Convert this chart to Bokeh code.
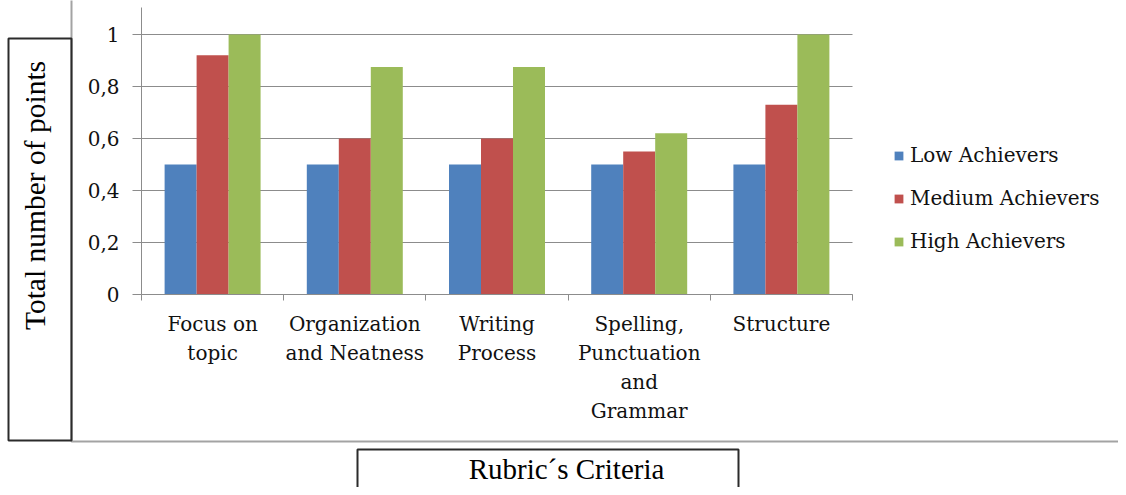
import math
from bokeh.plotting import figure
from bokeh.models import (Range1d, FixedTicker, BoxAnnotation, Label, Legend, LegendItem,
                          ColumnDataSource, LinearAxis, Grid)
from bokeh.embed import file_html
from bokeh.resources import INLINE

# ---------------- data ----------------
categories = ["Focus on\ntopic", "Organization\nand Neatness", "Writing\nProcess",
              "Spelling,\nPunctuation\nand\nGrammar", "Structure"]
series_names = ["Low Achievers", "Medium Achievers", "High Achievers"]
low = [0.5, 0.5, 0.5, 0.5, 0.5]
medium = [0.92, 0.60, 0.60, 0.55, 0.73]
high = [1.0, 0.875, 0.875, 0.62, 1.0]
y_ticks = [0, 0.2, 0.4, 0.6, 0.8, 1.0]
y_tick_labels = ["0", "0,2", "0,4", "0,6", "0,8", "1"]
y_title = "Total number of points"
x_title = "Rubric\u00b4s Criteria"

# ---------------- geometry / style ----------------
colors = ["#4F81BD", "#C0504D", "#9BBB59"]
FONT = "'DejaVu Serif', 'Liberation Serif', serif"
TITLE_FONT = "'Liberation Serif', 'Times New Roman', Tinos, serif"
GRAY = "#8c8c8c"
W, H = 1118, 487

# plot area in canvas pixels
PL, PR, P0, P1 = 141, 852, 294, 34   # left, right, y of value 0, y of value 1
N = len(categories)
XPX = (PR - PL) / N        # px per category
YPX = (P0 - P1) / 1.0      # px per unit


def xd(px):
    return (px - PL) / XPX


def yd(py):
    return (P0 - py) / YPX


p = figure(width=W, height=H, x_range=Range1d(xd(0), xd(W)), y_range=Range1d(yd(H), yd(0)),
           x_axis_type=None, y_axis_type=None,
           min_border=0, min_border_left=0, min_border_right=0, min_border_top=0,
           min_border_bottom=0, output_backend="svg", toolbar_location=None,
           background_fill_color="white", border_fill_color="white")
p.outline_line_color = None

# outer chart-area lines (left & bottom)
p.add_layout(BoxAnnotation(left=xd(71), right=xd(W + 60), top=yd(-60), bottom=yd(441),
                           fill_alpha=0, line_color="#a3a3a3", line_alpha=1, line_width=2,
                           level="underlay"))
# y-title box
p.add_layout(BoxAnnotation(left=xd(8), right=xd(71), top=yd(38), bottom=yd(440),
                           fill_alpha=0, line_color="#2b2b2b", line_alpha=1, line_width=2))
# x-title box
p.add_layout(BoxAnnotation(left=xd(357), right=xd(738), top=yd(449), bottom=yd(H + 40),
                           fill_alpha=0, line_color="#2b2b2b", line_alpha=1, line_width=2))

# gridlines
try:
    grid = Grid(dimension=1, ticker=FixedTicker(ticks=y_ticks), cross_bounds=(0, N),
                grid_line_color=GRAY, level="underlay")
    p.add_layout(grid)
except Exception:
    p.segment(x0=0, x1=N, y0=y_ticks, y1=y_ticks, line_color=GRAY, line_width=1,
              level="underlay")

# bars
bw = 0.225
offsets = [-bw, 0.0, bw]
renderers = []
for vals, off, col in zip([low, medium, high], offsets, colors):
    src = ColumnDataSource(dict(x=[i + 0.5 + off for i in range(N)], top=vals))
    r = p.vbar(x="x", top="top", bottom=0, width=bw, source=src, fill_color=col,
               line_color=None)
    renderers.append(r)

# axes
xaxis = LinearAxis(fixed_location=0, bounds=(0, N), ticker=FixedTicker(ticks=list(range(N + 1))),
                   major_label_overrides={i: "" for i in range(N + 1)},
                   major_tick_out=6, major_tick_in=0, minor_tick_line_color=None,
                   axis_line_color=GRAY, major_tick_line_color=GRAY)
p.add_layout(xaxis, "below")

yaxis = LinearAxis(fixed_location=0, bounds=(0, yd(7)), ticker=FixedTicker(ticks=y_ticks),
                   major_label_overrides={t: l for t, l in zip(y_ticks, y_tick_labels)},
                   major_tick_out=9, major_tick_in=0, minor_tick_line_color=None,
                   axis_line_color=GRAY, major_tick_line_color=GRAY,
                   major_label_text_font=FONT, major_label_text_font_size="20px",
                   major_label_text_color="#111111", major_label_standoff=13)
p.add_layout(yaxis, "left")

# category labels (multi-line)
for i, cat in enumerate(categories):
    for k, line in enumerate(cat.split("\n")):
        p.add_layout(Label(x=i + 0.5, y=yd(323 + 29 * k), text=line, text_align="center",
                           text_baseline="middle", text_font=FONT, text_font_size="20px",
                           text_color="#111111"))

# axis titles
p.add_layout(Label(x=xd(34), y=yd(195), text=y_title, angle=math.pi / 2,
                   text_align="center", text_baseline="middle", text_font=TITLE_FONT,
                   text_font_size="29.5px", text_color="#000000"))
p.add_layout(Label(x=xd(566), y=yd(468), text=x_title, text_align="center",
                   text_baseline="middle", text_font=TITLE_FONT, text_font_size="29px",
                   text_color="#000000"))

# legend
legend = Legend(items=[LegendItem(label=n, renderers=[r]) for n, r in zip(series_names, renderers)],
                location=(893, H - 253), orientation="vertical", glyph_width=11, glyph_height=11,
                label_text_font=FONT, label_text_font_size="20px", label_text_color="#111111",
                label_standoff=6, spacing=19, padding=0, margin=0, border_line_color=None,
                background_fill_alpha=0)
p.add_layout(legend)

open("out.html", "w").write(file_html(p, INLINE))
